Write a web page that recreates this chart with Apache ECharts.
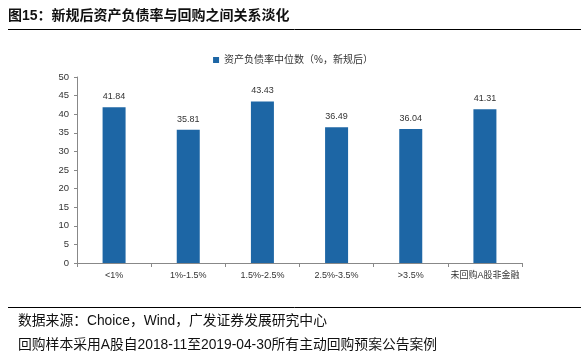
<!DOCTYPE html>
<html><head><meta charset="utf-8">
<script src="https://cdn.jsdelivr.net/npm/echarts@6/dist/echarts.min.js"></script>
<style>html,body{margin:0;padding:0;background:#fff;}#c{width:586px;height:359px;}</style>
</head><body><div id="c"></div>
<script>
var categories = ['<1%', '1%-1.5%', '1.5%-2.5%', '2.5%-3.5%', '>3.5%', '未回购A股非金融'];
var values = [41.84, 35.81, 43.43, 36.49, 36.04, 41.31];
var seriesName = '资产负债率中位数（%，新规后）';
var titleText = '图15：新规后资产负债率与回购之间关系淡化';
var sourceText = '数据来源：Choice，Wind，广发证券发展研究中心';
var noteText = '回购样本采用A股自2018-11至2019-04-30所有主动回购预案公告案例';
var yMin = 0, yMax = 50, yStep = 5;

var chart = echarts.init(document.getElementById('c'), null, {renderer: 'canvas'});
var font = '"Liberation Sans", Arial, "Noto Sans CJK SC", sans-serif';
chart.setOption({
  animation: false,
  backgroundColor: '#fff',
  textStyle: {fontFamily: font},
  graphic: [
    {type: 'text', left: 8, top: 9, style: {text: titleText, font: 'bold 14px ' + font, fill: '#111'}},
    {type: 'line', shape: {x1: 8, y1: 29.5, x2: 581, y2: 29.5}, style: {stroke: '#000', lineWidth: 1}},
    {type: 'line', shape: {x1: 8, y1: 307.5, x2: 581, y2: 307.5}, style: {stroke: '#000', lineWidth: 1}},
    {type: 'text', left: 18, top: 314, style: {text: sourceText, font: '13.8px ' + font, fill: '#111'}},
    {type: 'text', left: 18, top: 338, style: {text: noteText, font: '13.8px ' + font, fill: '#111'}}
  ],
  legend: {
    data: [seriesName], top: 50, left: 'center',
    itemWidth: 6, itemHeight: 6, itemGap: 4,
    icon: 'rect',
    textStyle: {fontSize: 10, color: '#333', fontFamily: font}
  },
  grid: {left: 77, right: 64, top: 77, bottom: 96, containLabel: false},
  xAxis: {
    type: 'category', data: categories, boundaryGap: true,
    axisLine: {lineStyle: {color: '#888'}},
    axisTick: {show: true, alignWithLabel: false, length: 4, lineStyle: {color: '#888'}},
    axisLabel: {fontSize: 9, color: '#333', margin: 8, interval: 0}
  },
  yAxis: {
    type: 'value', min: yMin, max: yMax, interval: yStep,
    splitLine: {show: false},
    axisLine: {show: true, lineStyle: {color: '#888'}},
    axisTick: {show: true, length: 3, lineStyle: {color: '#888'}},
    axisLabel: {fontSize: 9.5, color: '#333', margin: 8}
  },
  series: [{
    name: seriesName, type: 'bar', data: values, barWidth: 23,
    itemStyle: {color: '#1d66a5'},
    label: {show: true, position: 'top', fontSize: 9, color: '#333', distance: 6, formatter: function(p){return p.value.toFixed(2);}}
  }]
});
</script></body></html>
